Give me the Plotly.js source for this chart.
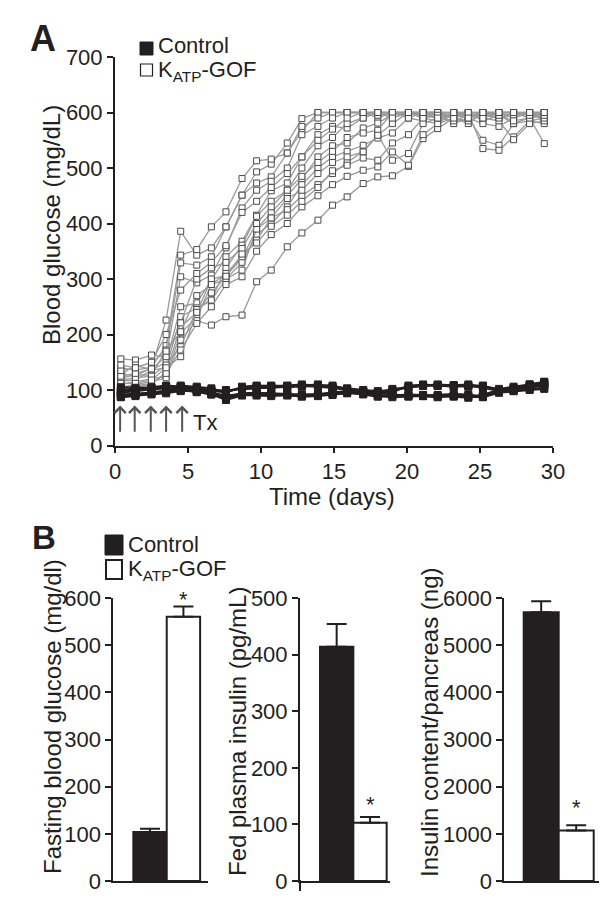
<!DOCTYPE html>
<html>
<head>
<meta charset="utf-8">
<script src="https://cdn.plot.ly/plotly-3.0.1.min.js"></script>
<style>html,body{margin:0;padding:0;background:#fff;}#chart{width:616px;height:919px;}</style>
</head>
<body>
<div id="chart"></div>
<script>
// ---------- DATA ----------
const days = [0.4,1.4,2.5,3.5,4.5,5.6,6.6,7.6,8.7,9.7,10.7,11.8,12.8,13.9,14.9,15.9,17.0,18.0,19.0,20.1,21.1,22.1,23.2,24.2,25.2,26.3,27.3,28.4,29.4];

const gof1  = [130,125,140,226,386,343,356,394,451,493,507,545,589,600,600,600,600,600,600,600,600,600,590,600,600,590,600,595,590];
const gof2  = [140,136,141,180,343,353,394,421,481,513,516,527,567,600,600,600,600,600,600,600,600,600,600,600,600,600,600,600,600];
const gof3  = [122,127,127,172,329,325,340,394,451,473,484,527,575,590,600,600,600,590,600,600,595,590,600,595,590,600,590,600,585];
const gof4  = [156,154,163,160,304,293,307,356,428,460,476,500,560,575,590,600,600,595,600,590,600,600,590,580,600,600,600,590,600];
const gof5  = [116,118,136,150,250,257,298,340,368,415,459,473,520,560,575,572,590,600,590,600,590,585,600,600,585,595,580,585,580];
const gof6  = [127,145,136,140,232,248,262,320,361,413,440,460,500,540,555,580,590,600,600,595,600,600,595,590,580,575,590,600,595];
const gof7  = [95,105,110,132,214,239,300,306,337,390,420,450,480,520,540,545,572,581,596,600,590,600,580,590,550,541,580,590,600];
const gof8  = [110,115,120,125,203,230,290,300,330,380,400,430,470,500,520,530,541,554,563,590,585,580,590,600,535,532,556,585,590];
const gof9  = [105,110,115,122,190,225,217,232,235,295,316,358,383,406,433,448,472,484,486,503,553,571,590,585,595,590,600,590,544];
const gof10 = [118,122,125,145,178,245,262,300,316,390,410,425,450,470,490,510,530,560,514,526,580,590,595,600,590,585,551,580,585];
const gof11 = [100,108,112,130,172,220,250,290,304,350,380,400,430,450,470,485,496,502,529,505,560,580,600,590,595,600,590,600,600];
const gof12 = [125,130,138,160,221,300,320,330,355,400,430,460,485,510,530,555,563,568,600,600,600,590,585,595,600,590,595,600,590];
const gof13 = [135,140,150,170,205,270,290,310,340,370,410,445,460,490,510,520,529,559,580,600,595,600,600,590,600,595,585,590,595];
const gof14 = [112,112,118,140,160,240,275,305,345,365,395,415,440,465,495,505,518,514,545,560,590,595,590,600,590,600,600,595,600];
const gof15 = [145,140,150,200,280,310,330,360,420,440,465,490,520,550,570,590,600,600,590,600,600,590,600,590,600,600,600,600,600];

const ctl1 = [100,102,105,108,106,104,100,98,103,105,107,108,110,108,106,103,100,98,100,104,108,110,108,107,106,100,104,108,112];
const ctl2 = [95,98,100,104,108,106,103,95,106,108,106,105,108,110,104,100,96,94,98,106,110,108,106,108,104,98,100,110,115];
const ctl3 = [92,93,95,97,100,98,95,90,93,92,91,90,89,90,92,95,97,96,92,90,89,88,90,89,90,97,100,104,108];
const ctl4 = [88,90,92,94,98,100,92,82,90,94,93,92,90,92,94,96,92,88,90,92,91,90,88,86,92,100,102,106,110];
const ctl5 = [98,100,102,103,104,100,98,96,104,107,108,107,106,109,108,102,98,92,96,108,109,107,109,110,107,102,106,110,114];
const ctl6 = [90,92,96,99,102,96,94,88,94,95,94,93,92,93,95,98,95,90,91,89,90,91,93,92,88,96,98,102,104];
const ctl7 = [105,104,104,106,105,103,98,100,101,103,104,106,107,106,104,101,99,95,102,105,107,109,107,106,108,99,103,106,110];
const ctl8 = [87,89,94,96,99,97,92,86,91,90,89,91,88,89,91,94,93,89,87,88,89,87,89,88,87,95,98,100,102];

const txDays = [0.35,1.35,2.45,3.5,4.6];

const groups = ['Control','KATP-GOF'];
const fastingGlucose = [104,560];
const fastingGlucoseErr = [7,22];
const plasmaInsulin = [414,103];
const plasmaInsulinErr = [40,10];
const insulinContent = [5700,1070];
const insulinContentErr = [230,110];

// ---------- STYLE ----------
const FONT = 'Arial, "Liberation Sans", Helvetica, sans-serif';
const INK = '#231f20';
const W = 616, H = 919;
const px = v => v / W;
const py = v => 1 - v / H;

const gofSeries = [gof1,gof2,gof3,gof4,gof5,gof6,gof7,gof8,gof9,gof10,gof11,gof12,gof13,gof14,gof15];
const ctlSeries = [ctl1,ctl2,ctl3,ctl4,ctl5,ctl6,ctl7,ctl8];

const traces = [];
gofSeries.forEach(s => traces.push({
  type:'scatter', mode:'lines+markers', x: days, y: s, xaxis:'x', yaxis:'y',
  line:{color:'#9a9a9a', width:1.3},
  marker:{symbol:'square', size:6, color:'#ffffff', line:{color:'#4a4a4a', width:1}},
  showlegend:false, hoverinfo:'skip', cliponaxis:false
}));
ctlSeries.forEach(s => traces.push({
  type:'scatter', mode:'lines+markers', x: days, y: s, xaxis:'x', yaxis:'y',
  line:{color:INK, width:2},
  marker:{symbol:'square', size:7, color:INK, line:{color:INK, width:1}},
  showlegend:false, hoverinfo:'skip', cliponaxis:false
}));

function barTrace(vals, errs, xa, ya){
  return {
    type:'bar', x: groups, y: vals, xaxis: xa, yaxis: ya, width: 1,
    marker:{color:[INK,'#ffffff'], line:{color:INK, width:2}},
    error_y:{type:'data', symmetric:false, array: errs, arrayminus:[0,0], color:INK, thickness:2, width:10},
    showlegend:false, hoverinfo:'skip'
  };
}
traces.push(barTrace(fastingGlucose, fastingGlucoseErr, 'x2','y2'));
traces.push(barTrace(plasmaInsulin, plasmaInsulinErr, 'x3','y3'));
traces.push(barTrace(insulinContent, insulinContentErr, 'x4','y4'));

const tickFont = {family: FONT, size: 22, color: INK};
function yax(domain, range, dtick, anchor){
  return {domain, range, dtick, tick0:0, anchor, showline:true, linewidth:2, linecolor:INK,
    ticks:'outside', ticklen:6, tickwidth:2, tickcolor:INK, showgrid:false, zeroline:false,
    tickfont: tickFont, fixedrange:true};
}
function xbar(domain, range, anchor){
  return {domain, range, type:'category', anchor, showline:true, linewidth:2, linecolor:INK,
    ticks:'', showticklabels:false, showgrid:false, zeroline:false, fixedrange:true};
}

const bDom = [py(881), py(598)];

const annotations = [];
const txt = (text, x, y, size, extra) => Object.assign({
  text, x, y, xref:'paper', yref:'paper', showarrow:false,
  font:{family:FONT, size, color:INK}, xanchor:'center', yanchor:'middle'
}, extra || {});

annotations.push(txt('<b>A</b>', px(28), py(38), 36, {xanchor:'left'}));
annotations.push(txt('<b>B</b>', px(30), py(537), 33, {xanchor:'left'}));
annotations.push(txt('Control', px(156), py(46), 22, {xanchor:'left'}));
annotations.push(txt('K<sub>ATP</sub>-GOF', px(156), py(71), 22, {xanchor:'left'}));
annotations.push(txt('Control', px(126), py(544), 22, {xanchor:'left'}));
annotations.push(txt('K<sub>ATP</sub>-GOF', px(126), py(570), 22, {xanchor:'left'}));

annotations.push(txt('Blood glucose (mg/dL)', px(51), py(225), 24, {textangle:-90}));
annotations.push(txt('Time (days)', px(332), py(496), 24));
annotations.push(txt('Fasting blood glucose (mg/dl)', px(52), py(717), 24, {textangle:-90}));
annotations.push(txt('Fed plasma insulin (pg/mL)', px(237), py(731), 24, {textangle:-90}));
annotations.push(txt('Insulin content/pancreas (ng)', px(429), py(722), 24, {textangle:-90}));

// treatment arrows
txDays.forEach(d => annotations.push({
  x:d, y:72, ax:d, ay:22, xref:'x', yref:'y', axref:'x', ayref:'y',
  showarrow:true, arrowhead:4, arrowsize:1.1, arrowwidth:2, arrowcolor:'#555555', text:''
}));
annotations.push({text:'Tx', x:5.2, y:42, xref:'x', yref:'y', showarrow:false,
  xanchor:'left', yanchor:'middle', font:{family:FONT, size:22, color:INK}});

// significance asterisks
annotations.push({text:'*', x:'KATP-GOF', y:597, xref:'x2', yref:'y2', showarrow:false, yanchor:'middle', font:{family:FONT, size:22, color:INK}});
annotations.push({text:'*', x:'KATP-GOF', y:135, xref:'x3', yref:'y3', showarrow:false, yanchor:'middle', font:{family:FONT, size:22, color:INK}});
annotations.push({text:'*', x:'KATP-GOF', y:1550, xref:'x4', yref:'y4', showarrow:false, yanchor:'middle', font:{family:FONT, size:22, color:INK}});

const shapes = [
  {type:'rect', xref:'paper', yref:'paper', x0:px(140), x1:px(153), y0:py(55), y1:py(42), fillcolor:INK, line:{color:INK, width:1}},
  {type:'rect', xref:'paper', yref:'paper', x0:px(140.5), x1:px(152.5), y0:py(76), y1:py(64), fillcolor:'#ffffff', line:{color:INK, width:1.2}},
  {type:'rect', xref:'paper', yref:'paper', x0:px(105), x1:px(123), y0:py(555), y1:py(535), fillcolor:INK, line:{color:INK, width:1}},
  {type:'rect', xref:'paper', yref:'paper', x0:px(106), x1:px(122), y0:py(579), y1:py(560), fillcolor:'#ffffff', line:{color:INK, width:2}},
  // small downward extension of the middle panel's y-axis below its baseline
  {type:'line', xref:'paper', yref:'paper', x0:px(300), x1:px(300), y0:py(880), y1:py(891), line:{color:INK, width:2}}
];

const layout = {
  width: W, height: H,
  margin:{l:0, r:0, t:0, b:0, pad:0},
  paper_bgcolor:'#ffffff', plot_bgcolor:'rgba(0,0,0,0)',
  font:{family:FONT, color:INK},
  showlegend:false,
  bargap:0,
  xaxis:{domain:[px(115), px(553)], range:[0,30], dtick:5, tick0:0, anchor:'y',
    showline:true, linewidth:2, linecolor:INK, ticks:'outside', ticklen:5, tickwidth:2, tickcolor:INK,
    showgrid:false, zeroline:false, tickfont: tickFont, fixedrange:true},
  yaxis: yax([py(445.5), py(57)], [0,700], 100, 'x'),
  xaxis2: xbar([px(113.3), px(208.3)], [-1.1, 1.745], 'y2'),
  yaxis2: yax(bDom, [0,600], 100, 'x2'),
  xaxis3: xbar([px(300), px(390)], [-1.1, 1.6], 'y3'),
  yaxis3: yax(bDom, [0,500], 100, 'x3'),
  xaxis4: xbar([px(504.3), px(599.3)], [-1.054, 1.66], 'y4'),
  yaxis4: yax(bDom, [0,6000], 1000, 'x4'),
  annotations, shapes
};

Plotly.newPlot('chart', traces, layout, {staticPlot:true, displayModeBar:false});
</script>
</body>
</html>
